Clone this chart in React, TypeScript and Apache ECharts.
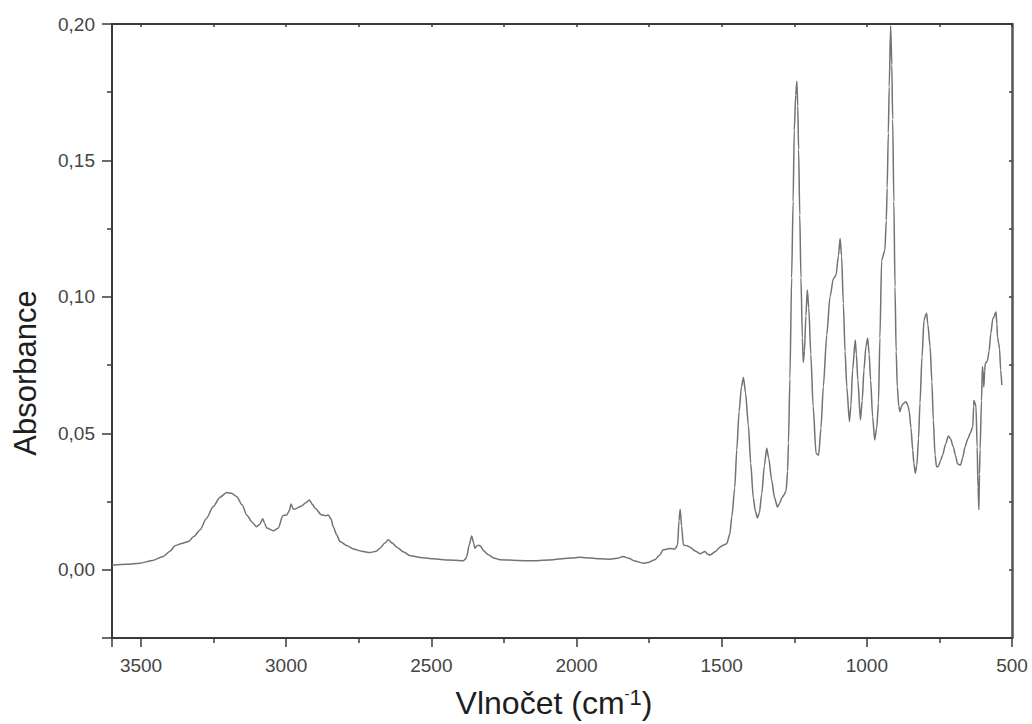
import React, { useEffect, useRef } from "react";
import * as echarts from "echarts";

// Wavenumber (cm-1), descending
const wavenumbers: number[] = [
  3600, 3550, 3504, 3460, 3423, 3400, 3383, 3360, 3337, 3318, 3297, 3275, 3251, 3228, 3205, 3188, 3170, 3152, 3136, 3118,
  3102, 3090, 3081, 3074, 3067, 3044, 3027, 3012, 2998, 2990, 2983, 2977, 2972, 2947, 2932, 2920, 2910, 2901, 2878, 2865,
  2855, 2845, 2838, 2826, 2815, 2790, 2769, 2740, 2711, 2690, 2677, 2660, 2648, 2635, 2619, 2595, 2573, 2530, 2493, 2440,
  2390, 2382, 2378, 2370, 2361, 2355, 2350, 2345, 2338, 2332, 2320, 2304, 2285, 2263, 2200, 2150, 2080, 2020, 1988, 1950,
  1920, 1885, 1860, 1839, 1820, 1800, 1770, 1750, 1730, 1715, 1701, 1680, 1661, 1652, 1647, 1643, 1638, 1632, 1620, 1609,
  1590, 1575, 1557, 1550, 1540, 1520, 1506, 1495, 1483, 1472, 1465, 1455, 1448, 1440, 1432, 1425, 1418, 1408, 1400, 1391,
  1384, 1377, 1370, 1362, 1353, 1345, 1338, 1328, 1318, 1308, 1300, 1293, 1285, 1278, 1273, 1270, 1265, 1259, 1254, 1250,
  1245, 1241, 1238, 1235, 1231, 1227, 1222, 1219, 1215, 1210, 1205, 1200, 1193, 1185, 1175, 1166, 1158, 1150, 1138, 1127,
  1115, 1106, 1098, 1092, 1087, 1081, 1075, 1069, 1060, 1055, 1049, 1040, 1036, 1031, 1022, 1016, 1010, 1003, 997, 992,
  987, 980, 973, 966, 960, 955, 949, 938, 933, 930, 926, 923, 918, 914, 911, 907, 903, 899, 895, 890,
  886, 880, 874, 865, 858, 854, 848, 842, 838, 833, 828, 822, 817, 810, 803, 797, 794, 790, 782, 776,
  771, 765, 760, 754, 746, 739, 729, 719, 712, 702, 695, 688, 683, 677, 670, 662, 652, 644, 635, 632,
  631, 627, 624, 620, 617, 614, 612, 610, 605, 602, 599, 597, 594, 592, 585, 579, 573, 566, 560, 558,
  555, 552, 550, 546, 543, 539, 535,
];

// Absorbance
const absorbance: number[] = [
  0.0017, 0.002, 0.0024, 0.0034, 0.0049, 0.0068, 0.0088, 0.0096, 0.0104, 0.0122, 0.0146, 0.0188, 0.0232, 0.0266, 0.0283, 0.028, 0.0268, 0.0238, 0.0201, 0.0175,
  0.0158, 0.0168, 0.0187, 0.017, 0.0153, 0.0143, 0.0153, 0.0198, 0.0201, 0.0215, 0.0241, 0.0225, 0.0222, 0.0234, 0.0246, 0.0256, 0.024, 0.0226, 0.0201, 0.0198,
  0.0201, 0.0185, 0.0158, 0.0128, 0.0104, 0.0088, 0.0076, 0.0068, 0.0063, 0.0068, 0.0079, 0.0098, 0.011, 0.0098, 0.0083, 0.0065, 0.0051, 0.0044, 0.004, 0.0036,
  0.0033, 0.004, 0.0049, 0.009, 0.0124, 0.01, 0.0079, 0.0086, 0.009, 0.0088, 0.007, 0.0055, 0.0043, 0.0037, 0.0034, 0.0033, 0.0037, 0.0043, 0.0046, 0.0043,
  0.004, 0.0039, 0.0042, 0.0049, 0.0042, 0.0032, 0.0024, 0.0028, 0.0037, 0.0052, 0.0073, 0.0078, 0.0076, 0.009, 0.018, 0.0222, 0.016, 0.0091, 0.0088, 0.0083,
  0.0068, 0.0059, 0.0067, 0.0058, 0.0054, 0.0068, 0.0083, 0.009, 0.0095, 0.013, 0.0195, 0.03, 0.044, 0.058, 0.067, 0.0705, 0.065, 0.053, 0.039, 0.0263,
  0.0215, 0.019, 0.021, 0.0278, 0.038, 0.0445, 0.041, 0.033, 0.0265, 0.023, 0.0245, 0.0263, 0.0275, 0.029, 0.036, 0.0465, 0.07, 0.107, 0.135, 0.161,
  0.174, 0.179, 0.17, 0.154, 0.13, 0.107, 0.085, 0.076, 0.08, 0.093, 0.1025, 0.096, 0.079, 0.06, 0.0427, 0.042, 0.052, 0.067, 0.086, 0.1,
  0.1067, 0.108, 0.115, 0.1214, 0.115, 0.0976, 0.08, 0.067, 0.0543, 0.06, 0.0732, 0.0842, 0.079, 0.0695, 0.0549, 0.062, 0.0732, 0.082, 0.0848, 0.079,
  0.0695, 0.056, 0.0476, 0.052, 0.061, 0.085, 0.1134, 0.117, 0.128, 0.14, 0.16, 0.177, 0.1994, 0.185, 0.165, 0.135, 0.1037, 0.08, 0.067, 0.06,
  0.058, 0.06, 0.061, 0.0616, 0.06, 0.058, 0.052, 0.0439, 0.039, 0.0354, 0.038, 0.048, 0.061, 0.078, 0.0915, 0.0935, 0.094, 0.09, 0.0817, 0.069,
  0.0549, 0.042, 0.0378, 0.0378, 0.04, 0.042, 0.046, 0.049, 0.048, 0.045, 0.042, 0.039, 0.0385, 0.0384, 0.041, 0.045, 0.048, 0.05, 0.0524, 0.06,
  0.062, 0.061, 0.0597, 0.045, 0.03, 0.022, 0.035, 0.044, 0.062, 0.0744, 0.072, 0.067, 0.073, 0.0756, 0.0765, 0.08, 0.0866, 0.092, 0.093, 0.094,
  0.0945, 0.09, 0.0854, 0.083, 0.081, 0.0732, 0.0677,
];

const xTicks: number[] = [500, 1000, 1500, 2000, 2500, 3000, 3500];
const yTicks: number[] = [0, 0.05, 0.1, 0.15, 0.2];

const FONT = "'Liberation Sans', Arial, Helvetica, sans-serif";
const AXIS_COLOR = "#3a3a3a";
const LABEL_COLOR = "#454545";
const TITLE_COLOR = "#1e1e1e";

export default function App() {
  const ref = useRef<HTMLDivElement>(null);

  useEffect(() => {
    if (!ref.current) return;
    const chart = echarts.init(ref.current, undefined, { renderer: "svg" });
    const data = wavenumbers.map((w, i) => [w, absorbance[i]]);

    const option: any = {
      animation: false,
      backgroundColor: "#ffffff",
      grid: { left: 112, right: 20, top: 24, bottom: 86, containLabel: false },
      xAxis: [
        {
          type: "value",
          min: 500,
          max: 3600,
          interval: 500,
          inverse: true,
          axisLine: { show: true, onZero: false, lineStyle: { color: AXIS_COLOR, width: 2 } },
          axisTick: { show: true, inside: false, length: 9, lineStyle: { color: AXIS_COLOR, width: 1.5 } },
          minorTick: { show: true, splitNumber: 2, length: 5, lineStyle: { color: AXIS_COLOR, width: 1.5 } },
          splitLine: { show: false },
          axisLabel: {
            margin: 18,
            color: LABEL_COLOR,
            fontFamily: FONT,
            fontSize: 19,
            showMaxLabel: false,
            formatter: (v: number) => (xTicks.indexOf(v) >= 0 ? String(v) : ""),
          },
        },
        {
          type: "value",
          position: "top",
          min: 500,
          max: 3600,
          interval: 250,
          inverse: true,
          axisLine: { show: true, onZero: false, lineStyle: { color: AXIS_COLOR, width: 2 } },
          axisTick: { show: true, inside: true, length: 3, lineStyle: { color: AXIS_COLOR, width: 1.5 } },
          splitLine: { show: false },
          axisLabel: { show: false },
        },
      ],
      yAxis: [
        {
          type: "value",
          min: -0.025,
          max: 0.2,
          splitNumber: 5,
          axisLine: { show: true, onZero: false, lineStyle: { color: AXIS_COLOR, width: 2 } },
          axisTick: { show: true, inside: false, length: 10, lineStyle: { color: AXIS_COLOR, width: 1.5 } },
          minorTick: { show: true, splitNumber: 2, length: 5, lineStyle: { color: AXIS_COLOR, width: 1.5 } },
          splitLine: { show: false },
          axisLabel: {
            margin: 17,
            color: LABEL_COLOR,
            fontFamily: FONT,
            fontSize: 19,
            showMinLabel: false,
            formatter: (v: number) => {
              const hit = yTicks.find((t) => Math.abs(t - v) < 1e-9);
              return hit === undefined ? "" : hit.toFixed(2).replace(".", ",");
            },
          },
        },
        {
          type: "value",
          position: "right",
          min: -0.025,
          max: 0.2,
          interval: 0.025,
          axisLine: { show: true, onZero: false, lineStyle: { color: "#555555", width: 2.5 } },
          axisTick: { show: true, inside: true, length: 3, lineStyle: { color: AXIS_COLOR, width: 1.5 } },
          splitLine: { show: false },
          axisLabel: { show: false },
        },
      ],
      series: [
        {
          type: "line",
          xAxisIndex: 0,
          yAxisIndex: 0,
          data,
          showSymbol: false,
          smooth: 0.25,
          smoothMonotone: "x",
          clip: true,
          lineStyle: { color: "#737373", width: 1.5 },
        },
      ],
      graphic: [
        {
          type: "text",
          x: 25,
          y: 373,
          rotation: Math.PI / 2,
          style: {
            text: "Absorbance",
            font: `31px ${FONT}`,
            fill: TITLE_COLOR,
            textAlign: "center",
            textVerticalAlign: "middle",
          },
        },
        {
          type: "text",
          x: 554,
          y: 703,
          style: {
            text: "{a|Vlnočet (cm}{s|-}{t|1}{a|)}",
            textAlign: "center",
            textVerticalAlign: "middle",
            fill: TITLE_COLOR,
            rich: {
              a: { fontSize: 32, lineHeight: 34, fontFamily: FONT, fill: TITLE_COLOR, color: TITLE_COLOR },
              s: { fontSize: 15, lineHeight: 8, fontFamily: FONT, fill: TITLE_COLOR, color: TITLE_COLOR, verticalAlign: "top" },
              t: { fontSize: 22, lineHeight: 14, fontFamily: FONT, fill: TITLE_COLOR, color: TITLE_COLOR, verticalAlign: "top" },
            },
          },
        },
      ],
    };

    chart.setOption(option);
    return () => chart.dispose();
  }, []);

  return (
    <div
      ref={ref}
      style={{ position: "fixed", left: 0, top: 0, width: 1032, height: 724, background: "#fff" }}
    />
  );
}
